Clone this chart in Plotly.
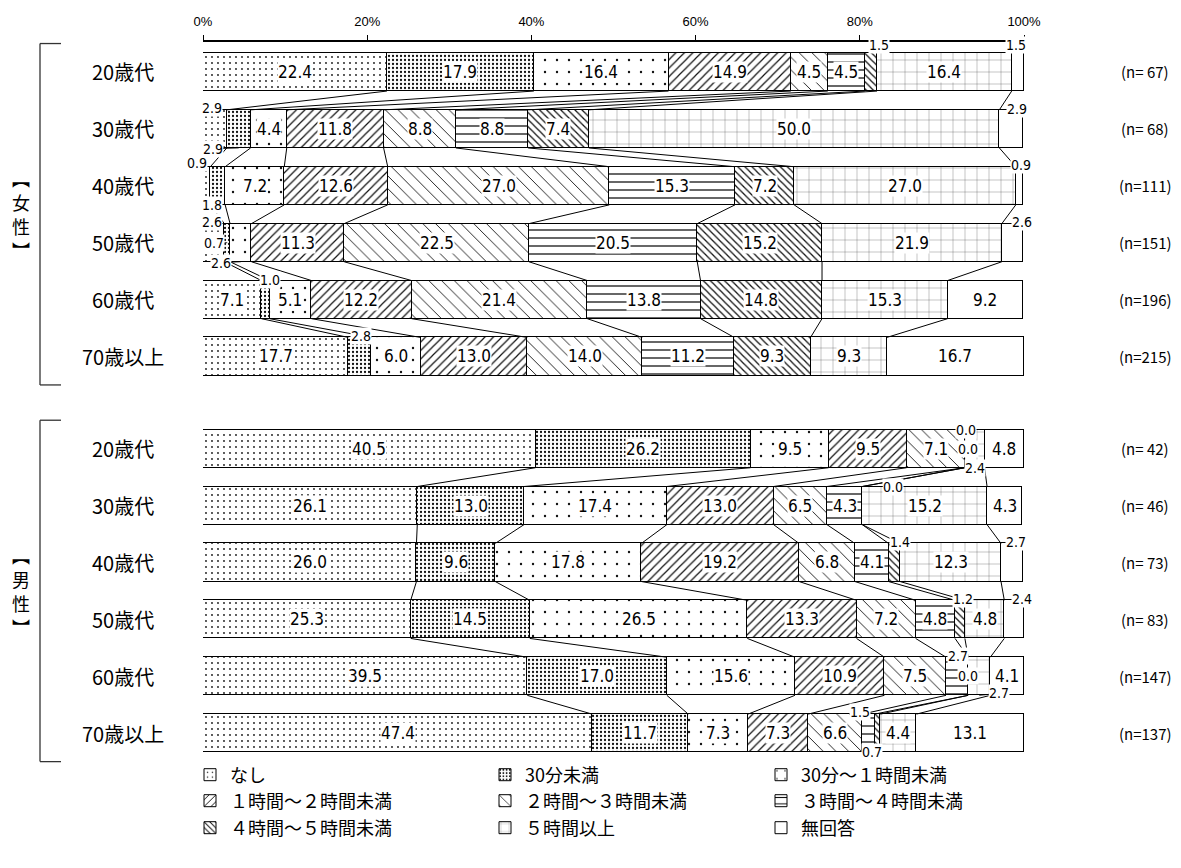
import plotly.graph_objects as go

# ---------------- data ----------------
categories = ["なし", "30分未満", "30分～１時間未満", "１時間～２時間未満", "２時間～３時間未満",
              "３時間～４時間未満", "４時間～５時間未満", "５時間以上", "無回答"]
age_labels = ["20歳代", "30歳代", "40歳代", "50歳代", "60歳代", "70歳以上"]

female_n = [67, 68, 111, 151, 196, 215]
male_n = [42, 46, 73, 83, 147, 137]

female_20 = [22.4, 17.9, 16.4, 14.9, 4.5, 4.5, 1.5, 16.4, 1.5]
female_30 = [2.9, 2.9, 4.4, 11.8, 8.8, 8.8, 7.4, 50.0, 2.9]
female_40 = [0.9, 1.8, 7.2, 12.6, 27.0, 15.3, 7.2, 27.0, 0.9]
female_50 = [2.6, 0.7, 2.6, 11.3, 22.5, 20.5, 15.2, 21.9, 2.6]
female_60 = [7.1, 1.0, 5.1, 12.2, 21.4, 13.8, 14.8, 15.3, 9.2]
female_70 = [17.7, 2.8, 6.0, 13.0, 14.0, 11.2, 9.3, 9.3, 16.7]

male_20 = [40.5, 26.2, 9.5, 9.5, 7.1, 0.0, 0.0, 2.4, 4.8]
male_30 = [26.1, 13.0, 17.4, 13.0, 6.5, 4.3, 0.0, 15.2, 4.3]
male_40 = [26.0, 9.6, 17.8, 19.2, 6.8, 4.1, 1.4, 12.3, 2.7]
male_50 = [25.3, 14.5, 26.5, 13.3, 7.2, 4.8, 1.2, 4.8, 2.4]
male_60 = [39.5, 17.0, 15.6, 10.9, 7.5, 2.7, 0.0, 2.7, 4.1]
male_70 = [47.4, 11.7, 7.3, 7.3, 6.6, 1.5, 0.7, 4.4, 13.1]

female_rows = [female_20, female_30, female_40, female_50, female_60, female_70]
male_rows = [male_20, male_30, male_40, male_50, male_60, male_70]

tick_vals = [0, 20, 40, 60, 80, 100]
tick_text = ["0%", "20%", "40%", "60%", "80%", "100%"]

# ---------------- layout geometry ----------------
W, H = 1181, 868
L, R, T, B = 203, 157, 42, 102
PW, PH = W - L - R, H - T - B
MALE_OFFSET = 6.62
BAR_W = 0.67
Y_TOP, Y_BOTTOM = -0.527, 12.197
UNIT_PX = PH / (Y_BOTTOM - Y_TOP)


def px_x(p):
    return (p - L) / PW


def px_y(p):
    return 1 - (p - T) / PH


rows = female_rows + male_rows
ypos = [i for i in range(6)] + [MALE_OFFSET + i for i in range(6)]
n_all = female_n + male_n

patterns = [
    dict(shape=".", size=6, solidity=0.07),
    dict(shape=".", size=4, solidity=0.25),
    dict(shape=".", size=12, solidity=0.03),
    dict(shape="/", size=6, solidity=0.2),
    dict(shape="\\", size=9, solidity=0.1),
    dict(shape="-", size=8, solidity=0.16),
    dict(shape="\\", size=5, solidity=0.25),
    dict(shape="+", size=12, solidity=0.04),
    dict(shape="", size=8, solidity=0.1),
]
legend_ids = ["legend"] + [f"legend{i}" for i in range(2, 10)]

fig = go.Figure()
for j, cat in enumerate(categories):
    pat = dict(patterns[j])
    pat.update(fgcolor="#111111", bgcolor="white", fillmode="replace")
    fig.add_trace(go.Bar(
        x=[r[j] for r in rows], y=ypos, orientation="h", width=BAR_W,
        name=cat, legend=legend_ids[j],
        marker=dict(color="white", line=dict(color="black", width=1), pattern=pat),
        hoverinfo="skip",
    ))

# connector lines between adjacent rows within each group
cx, cy = [], []
for g in range(2):
    for i in range(5):
        a = rows[g * 6 + i]
        b = rows[g * 6 + i + 1]
        ya = ypos[g * 6 + i] + BAR_W / 2
        yb = ypos[g * 6 + i + 1] - BAR_W / 2
        for k in range(1, 9):
            cx += [sum(a[:k]), sum(b[:k]), None]
            cy += [ya, yb, None]
fig.add_trace(go.Scatter(x=cx, y=cy, mode="lines", line=dict(color="black", width=1),
                         showlegend=False, hoverinfo="skip"))

# ---------------- labels ----------------
# small values: (row index, category) -> (edge, ax, ay)  pixel offsets of label text
small_labels = {
    (0, 6): ("top", 8, -8), (0, 8): ("top", -2, -8),
    (1, 0): ("top", -3, -2), (1, 1): ("bottom", -26, 1), (1, 8): ("top", 6, -1),
    (2, 0): ("top", -10, -4), (2, 1): ("bottom", -6, 0), (2, 8): ("top", 2, -2),
    (3, 0): ("top", -2, -2), (3, 1): ("mid", -13, 0), (3, 2): ("bottom", -20, 1), (3, 8): ("top", 9, -2),
    (4, 1): ("top", 5, -1),
    (5, 1): ("top", 1, -1),
    (6, 5): ("top", 1, 0), (6, 6): ("mid", 3, 0), (6, 7): ("bottom", 0, 0),
    (7, 6): ("top", 31, 0),
    (8, 6): ("top", 6, -1), (8, 8): ("top", 4, -1),
    (9, 6): ("top", 3, -1), (9, 8): ("top", 8, -1),
    (10, 5): ("top", 1, -1), (10, 6): ("mid", 0, 0), (10, 7): ("bottom", 20, -2),
    (11, 5): ("top", -8, -2), (11, 6): ("bottom", -5, 0),
}

NUM_FONT = "DejaVu Sans Condensed, Noto Sans CJK JP, sans-serif"
JP_FONT = "Noto Sans CJK JP, sans-serif"
ann = []
for ri, r in enumerate(rows):
    y = ypos[ri]
    start = 0.0
    for j, v in enumerate(r):
        xc = start + v / 2
        txt = f"{v:.1f}"
        if (ri, j) in small_labels:
            edge, axp, ayp = small_labels[(ri, j)]
            yy = y - BAR_W / 2 if edge == "top" else (y + BAR_W / 2 if edge == "bottom" else y)
            ann.append(dict(x=xc, y=yy, xref="x", yref="y", text=txt, showarrow=True,
                            ax=axp, ay=ayp, arrowhead=0, arrowwidth=0.8, arrowcolor="black",
                            standoff=0, bgcolor="white", borderpad=0,
                            font=dict(family=NUM_FONT, size=14, color="black")))
        else:
            ann.append(dict(x=xc, y=y, xref="x", yref="y", text=txt, showarrow=False,
                            bgcolor="white", borderpad=0,
                            font=dict(family=NUM_FONT, size=17, color="black")))
        start += v
    # row label and n label
    ann.append(dict(x=px_x(123), y=y, xref="paper", yref="y", text=age_labels[ri % 6],
                    showarrow=False, xanchor="center",
                    font=dict(family=JP_FONT, size=20, color="black")))
    ann.append(dict(x=px_x(1145), y=y, xref="paper", yref="y", text=f"(n={n_all[ri]:>3})",
                    showarrow=False, xanchor="center",
                    font=dict(family=JP_FONT, size=15, color="black")))

# group labels (vertical) and brackets
shapes = []
for g, label in enumerate(["女性", "男性"]):
    mid = 2.5 + g * MALE_OFFSET
    chars = ["︻", label[0], label[1], "︼"]
    step = 24.0 / UNIT_PX
    for k, ch in enumerate(chars):
        ann.append(dict(x=px_x(21), y=mid + (k - 1.5) * step, xref="paper", yref="y", text=ch,
                        showarrow=False, xanchor="center", yanchor="middle",
                        font=dict(family=JP_FONT, size=18, color="black")))
    y0, y1 = mid - 3.0, mid + 3.0
    line = dict(color="#333333", width=1.3)
    shapes.append(dict(type="line", xref="paper", yref="y", x0=px_x(40), x1=px_x(40), y0=y0, y1=y1, line=line))
    shapes.append(dict(type="line", xref="paper", yref="y", x0=px_x(40), x1=px_x(61), y0=y0, y1=y0, line=line))
    shapes.append(dict(type="line", xref="paper", yref="y", x0=px_x(40), x1=px_x(61), y0=y1, y1=y1, line=line))

legend_style = dict(orientation="v", xanchor="left", yanchor="middle", bgcolor="rgba(0,0,0,0)",
                    font=dict(family=JP_FONT, size=18, color="black"), itemclick=False,
                    itemdoubleclick=False, traceorder="normal")
col_x = [190, 485, 761]
row_y = [775, 801, 828]
legend_layout = {}
for j, lid in enumerate(legend_ids):
    legend_layout[lid] = dict(legend_style, x=px_x(col_x[j % 3]), y=px_y(row_y[j // 3]))

fig.update_layout(
    width=W, height=H,
    margin=dict(l=L, r=R, t=T, b=B),
    plot_bgcolor="white", paper_bgcolor="white",
    barmode="stack", bargap=0,
    showlegend=True,
    xaxis=dict(side="top", range=[0, 100], tickvals=tick_vals, ticktext=tick_text,
               showline=True, linecolor="black", linewidth=2, ticks="outside", ticklen=5,
               tickcolor="black", showgrid=False, zeroline=False, fixedrange=True,
               ticklabelstandoff=4,
               tickfont=dict(family="Liberation Sans, Arial, sans-serif", size=13, color="black")),
    yaxis=dict(range=[Y_BOTTOM, Y_TOP], showticklabels=False, showgrid=False, zeroline=False,
               showline=False, ticks="", fixedrange=True),
    annotations=ann,
    shapes=shapes,
    **legend_layout,
)

fig.write_html("out.html", config={"displayModeBar": False},
               post_script="document.body.style.margin='0';document.body.style.padding='0';")
